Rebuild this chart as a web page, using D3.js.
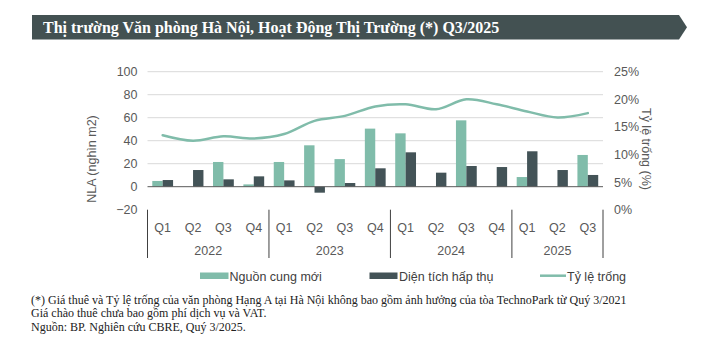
<!DOCTYPE html>
<html><head><meta charset="utf-8">
<script src="https://cdn.jsdelivr.net/npm/d3@7"></script>
<style>
html,body{margin:0;padding:0;background:#fff;}
svg{display:block;}
</style></head>
<body>
<svg id="c" width="722" height="357"></svg>
<script>
const years = ["2022","2023","2024","2025"];
const quarters = ["Q1","Q2","Q3","Q4","Q1","Q2","Q3","Q4","Q1","Q2","Q3","Q4","Q1","Q2","Q3"];
const quarterYear = ["2022","2022","2022","2022","2023","2023","2023","2023","2024","2024","2024","2024","2025","2025","2025"];
const supply = [5, 0, 21.5, 2, 21.5, 36, 24, 50.5, 46.4, 0, 57.7, 0, 8.4, 0, 27.6];
const absorption = [5.8, 14.5, 6.4, 9, 5.5, -5.2, 3.2, 16, 29.9, 12.2, 18, 17.1, 30.8, 14.5, 10.2];
const vacancy = [13.5, 12.5, 13.3, 12.9, 13.7, 16.1, 17.0, 18.7, 19.1, 18.2, 20.0, 19.1, 17.8, 16.7, 17.5];
const leftTicks = [-20, 0, 20, 40, 60, 80, 100];
const rightTicks = [0, 5, 10, 15, 20, 25];
const seriesNames = ["Nguồn cung mới", "Diện tích hấp thụ", "Tỷ lệ trống"];
const titleText = "Thị trường Văn phòng Hà Nội, Hoạt Động Thị Trường (*) Q3/2025";
const notes = [
  "(*) Giá thuê và Tỷ lệ trống của văn phòng Hạng A tại Hà Nội không bao gồm ảnh hưởng của tòa TechnoPark từ Quý 3/2021",
  "Giá chào thuê chưa bao gồm phí dịch vụ và VAT.",
  "Nguồn: BP. Nghiên cứu CBRE, Quý 3/2025."
];

const C_SUPPLY = "#80bcaa", C_ABS = "#435357", C_LINE = "#80bcaa";
const svg = d3.select("#c");
const sans = "'Liberation Sans', Arial, sans-serif";
const serif = "'Liberation Serif', 'Times New Roman', serif";

// Title banner
const tb = {x0: 32, x1: 679, tip: 687, y0: 15, y1: 39.5};
svg.append("path")
  .attr("d", `M${tb.x0},${tb.y0}H${tb.x1}L${tb.tip},${(tb.y0+tb.y1)/2}L${tb.x1},${tb.y1}H${tb.x0}Z`)
  .attr("fill", "#435152");
svg.append("text").attr("x", 43).attr("y", 33)
  .attr("font-family", serif).attr("font-weight", "bold").attr("font-size", 16)
  .attr("fill", "#fff").text(titleText);

// Scales
const plot = {l: 147.5, r: 603, t: 71.7, b: 209.7};
const idx = d3.range(quarters.length);
const x = d3.scaleBand().domain(idx).range([plot.l, plot.r]).padding(0);
const xs = d3.scaleBand().domain(["s","a"]).range([0, x.bandwidth()]).paddingInner(0).paddingOuter(0.46);
const yL = d3.scaleLinear().domain([-20, 100]).range([plot.b, plot.t]);
const yR = d3.scaleLinear().domain([0, 25]).range([plot.b, plot.t]);

// Gridlines
svg.append("g").selectAll("line").data(leftTicks.filter(d => d > -20 && d !== 0)).join("line")
  .attr("x1", plot.l).attr("x2", plot.r)
  .attr("y1", d => yL(d)).attr("y2", d => yL(d))
  .attr("stroke", "#d9d9d9").attr("stroke-width", 1);

// Left axis labels
const axL = d3.axisLeft(yL).tickValues(leftTicks).tickSize(0).tickPadding(0);
const gL = svg.append("g").attr("transform", `translate(${137.5},0)`).call(axL);
gL.select(".domain").remove();
gL.selectAll("text").attr("font-family", sans).attr("font-size", 12.5).attr("fill", "#595959");

// Right axis labels
const axR = d3.axisRight(yR).tickValues(rightTicks).tickSize(0).tickPadding(0).tickFormat(d => d + "%");
const gR = svg.append("g").attr("transform", `translate(${614},0)`).call(axR);
gR.select(".domain").remove();
gR.selectAll("text").attr("font-family", sans).attr("font-size", 12.5).attr("fill", "#595959");

// Bars
const g = svg.append("g");
g.selectAll("rect.s").data(idx).join("rect").attr("class", "s")
  .attr("x", i => x(i) + xs("s")).attr("width", xs.bandwidth())
  .attr("y", i => yL(Math.max(0, supply[i]))).attr("height", i => Math.abs(yL(supply[i]) - yL(0)))
  .attr("fill", C_SUPPLY);
g.selectAll("rect.a").data(idx).join("rect").attr("class", "a")
  .attr("x", i => x(i) + xs("a")).attr("width", xs.bandwidth())
  .attr("y", i => yL(Math.max(0, absorption[i]))).attr("height", i => Math.abs(yL(absorption[i]) - yL(0)))
  .attr("fill", C_ABS);

// Zero line
svg.append("line").attr("x1", plot.l).attr("x2", plot.r).attr("y1", yL(0)).attr("y2", yL(0))
  .attr("stroke", "#595959").attr("stroke-width", 1);

// Vacancy line
const line = d3.line().x(i => x(i) + x.bandwidth()/2).y(i => yR(vacancy[i])).curve(d3.curveCatmullRom.alpha(0.5));
svg.append("path").datum(idx).attr("d", line).attr("fill", "none")
  .attr("stroke", C_LINE).attr("stroke-width", 2.5).attr("stroke-linecap", "round");

// Category axis
const sepIdx = [0];
idx.forEach(i => { if (i > 0 && quarterYear[i] !== quarterYear[i-1]) sepIdx.push(i); });
const sepX = sepIdx.map(i => x(i)).concat([plot.r]);
svg.append("g").selectAll("line").data(sepX).join("line")
  .attr("x1", d => d).attr("x2", d => d).attr("y1", plot.b).attr("y2", 258)
  .attr("stroke", "#404040").attr("stroke-width", 1);
svg.append("g").selectAll("text").data(idx).join("text")
  .attr("x", i => x(i) + x.bandwidth()/2).attr("y", 231.5)
  .attr("text-anchor", "middle").attr("font-family", sans).attr("font-size", 12.5).attr("fill", "#595959")
  .text(i => quarters[i]);
svg.append("g").selectAll("text").data(years).join("text")
  .attr("x", yr => { const a = idx.filter(i => quarterYear[i] === yr); return (x(a[0]) + x(a[a.length-1]) + x.bandwidth())/2; })
  .attr("y", 254.5)
  .attr("text-anchor", "middle").attr("font-family", sans).attr("font-size", 12.5).attr("fill", "#595959")
  .text(d => d);

// Axis titles
svg.append("text").attr("transform", "translate(96,159) rotate(-90)")
  .attr("text-anchor", "middle").attr("font-family", sans).attr("font-size", 12.5).attr("fill", "#595959")
  .text("NLA (nghìn m2)");
svg.append("text").attr("transform", "translate(642,149) rotate(90)")
  .attr("text-anchor", "middle").attr("font-family", sans).attr("font-size", 12.5).attr("fill", "#595959")
  .text("Tỷ lệ trống (%)");

// Legend
const lg = svg.append("g").attr("font-family", sans).attr("font-size", 12.5).attr("fill", "#404040");
lg.append("rect").attr("x", 200).attr("y", 272.5).attr("width", 28.5).attr("height", 6.5).attr("fill", C_SUPPLY);
lg.append("text").attr("x", 229.5).attr("y", 280.5).text(seriesNames[0]);
lg.append("rect").attr("x", 369.5).attr("y", 272.5).attr("width", 28).attr("height", 6.5).attr("fill", C_ABS);
lg.append("text").attr("x", 399).attr("y", 280.5).text(seriesNames[1]);
lg.append("line").attr("x1", 540).attr("x2", 566).attr("y1", 275.7).attr("y2", 275.7).attr("stroke", C_LINE).attr("stroke-width", 2.5);
lg.append("text").attr("x", 567).attr("y", 280.5).text(seriesNames[2]);

// Footnotes
svg.append("g").selectAll("text").data(notes).join("text")
  .attr("x", 31).attr("y", (d, i) => 304 + i * 13.3)
  .attr("font-family", serif).attr("font-size", 12).attr("fill", "#222")
  .text(d => d);
</script>
</body></html>
